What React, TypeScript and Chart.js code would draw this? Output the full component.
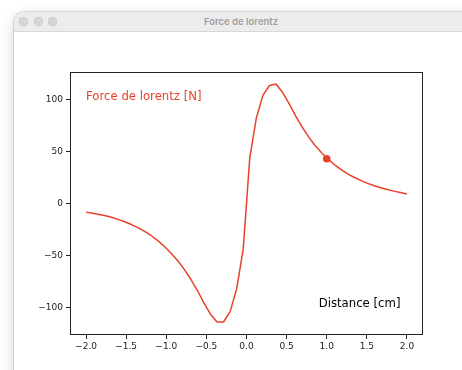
import React, { useEffect, useRef } from "react";
import { Chart, registerables } from "chart.js";

Chart.register(...registerables);

// Sample positions (cm)
const distanceCm = [
  -2.0, -1.918, -1.837, -1.755, -1.673, -1.592, -1.51, -1.429, -1.347, -1.265,
  -1.184, -1.102, -1.02, -0.939, -0.857, -0.776, -0.694, -0.612, -0.531, -0.449,
  -0.367, -0.286, -0.204, -0.122, -0.041, 0.041, 0.122, 0.204, 0.286, 0.367,
  0.449, 0.531, 0.612, 0.694, 0.776, 0.857, 0.939, 1.02, 1.102, 1.184,
  1.265, 1.347, 1.429, 1.51, 1.592, 1.673, 1.755, 1.837, 1.918, 2.0,
];

// Lorentz force (N)
const forceN = [
  -8.3, -9.3, -10.5, -11.8, -13.5, -15.5, -17.8, -20.5, -23.5, -27,
  -31, -36, -41.6, -47.9, -55.1, -63.4, -72.9, -83.7, -95.5, -106.5,
  -114, -114, -104, -82, -44, 44, 82, 104, 113.5, 115,
  107, 96, 84.2, 73.4, 63.9, 55.5, 48.5, 42.5, 37, 32.3,
  28.3, 25, 22, 19.4, 17.1, 15.1, 13.4, 11.9, 10.5, 9.2,
];

// Highlighted point
const markerX = [1.0];
const markerY = [43];

// Axis ticks
const xTickValues = [-2.0, -1.5, -1.0, -0.5, 0.0, 0.5, 1.0, 1.5, 2.0];
const yTickValues = [-100, -50, 0, 50, 100];

const xLimits = [-2.2, 2.2];
const yLimits = [-126.5, 126.5];

const forceLabel = "Force de lorentz [N]";
const forceLabelAt = [-2.0, 100];
const distanceLabel = "Distance [cm]";
const distanceLabelAt = [0.9, -100];

const RED = "#e8412c";
const INK = "#222222";
const TEXT_FONT = '11.7px "DejaVu Sans"';

const minus = (s: string) => s.replace("-", "\u2212");

const decorPlugin = {
  id: "decor",
  afterDatasetsDraw(chart: any) {
    const { ctx, scales } = chart;
    const x = scales.x;
    const y = scales.y;
    ctx.save();
    ctx.font = TEXT_FONT;
    ctx.textBaseline = "alphabetic";
    ctx.textAlign = "left";
    ctx.fillStyle = RED;
    ctx.fillText(
      forceLabel,
      x.getPixelForValue(forceLabelAt[0]),
      y.getPixelForValue(forceLabelAt[1])
    );
    ctx.fillStyle = "#000";
    ctx.fillText(
      distanceLabel,
      x.getPixelForValue(distanceLabelAt[0]),
      y.getPixelForValue(distanceLabelAt[1])
    );
    ctx.restore();
  },
  afterDraw(chart: any) {
    const { ctx, chartArea } = chart;
    const l = Math.round(chartArea.left) + 0.5;
    const t = Math.round(chartArea.top) + 0.5;
    const r = Math.round(chartArea.right) - 0.5;
    const b = Math.round(chartArea.bottom) - 0.5;
    ctx.save();
    ctx.strokeStyle = INK;
    ctx.lineWidth = 1;
    ctx.strokeRect(l, t, r - l, b - t);
    ctx.restore();
  },
};

function ForceChart() {
  const ref = useRef<HTMLCanvasElement | null>(null);
  useEffect(() => {
    if (!ref.current) return;
    const linePoints = distanceCm.map((d, i) => ({ x: d, y: forceN[i] }));
    const markerPoints = markerX.map((d, i) => ({ x: d, y: markerY[i] }));
    const chart = new Chart(ref.current, {
      type: "scatter",
      data: {
        datasets: [
          {
            type: "line",
            data: linePoints,
            borderColor: RED,
            backgroundColor: RED,
            borderWidth: 1.5,
            pointRadius: 0,
            tension: 0,
            borderJoinStyle: "round",
            fill: false,
          } as any,
          {
            type: "scatter",
            data: markerPoints,
            backgroundColor: RED,
            borderColor: RED,
            pointRadius: 3.8,
            borderWidth: 0,
          } as any,
        ],
      },
      options: {
        animation: false,
        responsive: false,
        maintainAspectRatio: false,
        events: [],
        layout: { padding: { left: 0, right: 39, top: 40, bottom: 0 } },
        plugins: {
          legend: { display: false },
          tooltip: { enabled: false },
          title: { display: false },
        },
        scales: {
          x: {
            type: "linear",
            min: xLimits[0],
            max: xLimits[1],
            afterFit: (s: any) => {
              s.height = 35;
            },
            afterBuildTicks: (s: any) => {
              s.ticks = xTickValues.map((value) => ({ value }));
            },
            border: { display: false },
            grid: {
              drawOnChartArea: false,
              drawTicks: true,
              tickLength: 4,
              color: INK,
              lineWidth: 1,
            },
            ticks: {
              color: INK,
              padding: 2,
              maxRotation: 0,
              autoSkip: false,
              font: { family: "DejaVu Sans", size: 9 },
              callback: (v: any) => minus(Number(v).toFixed(1)),
            },
          },
          y: {
            type: "linear",
            min: yLimits[0],
            max: yLimits[1],
            afterFit: (s: any) => {
              s.width = 56;
            },
            afterBuildTicks: (s: any) => {
              s.ticks = yTickValues.map((value) => ({ value }));
            },
            border: { display: false },
            grid: {
              drawOnChartArea: false,
              drawTicks: true,
              tickLength: 4,
              color: INK,
              lineWidth: 1,
            },
            ticks: {
              color: INK,
              padding: 3,
              autoSkip: false,
              font: { family: "DejaVu Sans", size: 9 },
              callback: (v: any) => minus(String(v)),
            },
          },
        },
      },
      plugins: [decorPlugin],
    });
    return () => chart.destroy();
  }, []);
  return (
    <canvas
      ref={ref}
      width={448}
      height={338}
      style={{ position: "absolute", left: 0, top: 20, width: 448, height: 338 }}
    />
  );
}

export default function App() {
  const dot = (left: number): React.CSSProperties => ({
    position: "absolute",
    left,
    top: 5,
    width: 9,
    height: 9,
    borderRadius: "50%",
    background: "#d6d6d6",
    boxShadow: "inset 0 0 0 0.5px #c4c4c4",
  });
  return (
    <div
      style={{
        position: "fixed",
        left: 0,
        top: 0,
        width: 462,
        height: 370,
        background: "#ffffff",
        overflow: "hidden",
      }}
    >
      <div
        style={{
          position: "absolute",
          left: 14,
          top: 12,
          width: 480,
          height: 400,
          background: "#ffffff",
          borderRadius: 10,
          boxShadow: "0 0 0 1px rgba(0,0,0,0.12), 0 4px 14px rgba(0,0,0,0.18)",
          overflow: "hidden",
        }}
      >
        <div
          style={{
            position: "absolute",
            left: 0,
            top: 0,
            width: "100%",
            height: 20,
            background: "#ececec",
            borderBottom: "1px solid #d8d8d8",
            boxSizing: "border-box",
          }}
        >
          <div style={dot(5)} />
          <div style={dot(19.5)} />
          <div style={dot(34)} />
          <div
            style={{
              position: "absolute",
              left: 227 - 60,
              width: 120,
              top: 0,
              height: 19,
              lineHeight: "19px",
              textAlign: "center",
              fontFamily: "Inter, 'Noto Sans', sans-serif",
              fontWeight: 600,
              fontSize: 9.5,
              color: "#a0a0a0",
            }}
          >
            Force de lorentz
          </div>
        </div>
        <ForceChart />
      </div>
    </div>
  );
}
